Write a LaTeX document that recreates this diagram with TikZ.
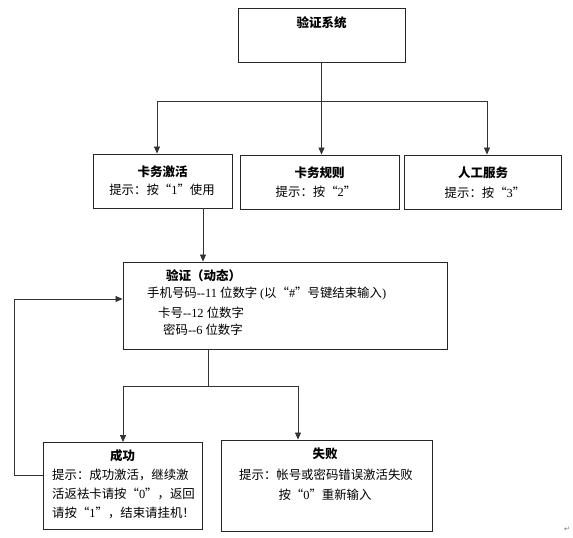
\documentclass[tikz,border=0pt]{standalone}
\usepackage{fontspec}
\setmainfont{Liberation Serif}
\newfontfamily\cjk{Noto Sans CJK SC}
\newfontfamily\symfont{DejaVu Sans}
\usetikzlibrary{arrows.meta}
\newcommand{\lat}[1]{{\rmfamily #1}}
\begin{document}
\begin{tikzpicture}[x=1pt,y=-1pt,
  box/.style={draw=black!85,line width=0.9pt,rectangle,inner sep=0pt},
  ttl/.style={font=\cjk\bfseries\fontsize{12.5}{14}\selectfont,inner sep=0pt},
  txt/.style={font=\cjk\fontsize{12.4}{14}\selectfont,inner sep=0pt},
  conn/.style={draw=black!80,line width=0.8pt},
  arr/.style={conn,-{Triangle[length=7pt,width=6pt]}}]
\useasboundingbox (0,0) rectangle (573,538);
% boxes
\node[box,minimum width=167pt,minimum height=54pt] (top) at (321.5,35) {};
\node[box,minimum width=139pt,minimum height=54pt] (b1) at (162.5,181) {};
\node[box,minimum width=159pt,minimum height=54pt] (b2) at (319.5,182) {};
\node[box,minimum width=157pt,minimum height=54pt] (b3) at (482.5,182) {};
\node[box,minimum width=324pt,minimum height=87pt] (verif) at (285,305.5) {};
\node[box,minimum width=159pt,minimum height=87pt] (succ) at (122.5,486) {};
\node[box,minimum width=211pt,minimum height=91pt] (fail) at (326.5,485.5) {};
% texts
\node[ttl] (ttop) at (321.5,23) {验证系统};
\node[ttl] (tb1) at (162.5,172) {卡务激活};
\node[txt] (sb1) at (162,190) {提示：按“\lat{1}”使用};
\node[ttl] (tb2) at (319.5,173) {卡务规则};
\node[txt] (sb2) at (316,192) {提示：按“\lat{2}”};
\node[ttl] (tb3) at (483,173) {人工服务};
\node[txt] (sb3) at (485,193) {提示：按“\lat{3}”};
\node[ttl,anchor=west] (tv) at (166,276) {验证（动态）};
\node[txt,anchor=west] (v1) at (147,294) {手机号码\lat{-{}-11 }位数字 \lat{(}以“\lat{\#}”号键结束输入\lat{)}};
\node[txt,anchor=west] (v2) at (158,313) {卡号\lat{-{}-12 }位数字};
\node[txt,anchor=west] (v3) at (163,330) {密码\lat{-{}-6 }位数字};
\node[ttl] (ts) at (122.5,456) {成功};
\node[txt,anchor=west] (s1) at (52,475) {提示：成功激活，继续激};
\node[txt,anchor=west] (s2) at (52,494) {活返袪卡请按“\lat{0}”，返回};
\node[txt,anchor=west] (s3) at (52,513) {请按“\lat{1}”，结束请挂机！};
\node[ttl] (tf) at (325,454) {失败};
\node[txt] (f1) at (326,475) {提示：帐号或密码错误激活失败};
\node[txt] (f2) at (325,495) {按“\lat{0}”重新输入};
\node[font=\symfont\fontsize{7}{8}\selectfont,text=black!55,inner sep=0pt] (mark) at (567,529) {↵};
% connectors
\coordinate (busL) at (157,101);
\coordinate (busR) at (487,101);
\draw[conn] (top.south) -- (top.south |- busL);
\draw[conn] (busL) -- (busR);
\draw[arr] (busL) -- (busL |- b1.north);
\draw[arr] (top.south |- busL) -- (top.south |- b2.north);
\draw[arr] (busR) -- (busR |- b3.north);
\coordinate (d1) at (203,0);
\draw[arr] (b1.south -| d1) -- (verif.north -| d1);
\coordinate (d2) at (208,386);
\coordinate (bus2L) at (123,386);
\coordinate (bus2R) at (298,386);
\draw[conn] (verif.south -| d2) -- (d2);
\draw[conn] (bus2L) -- (bus2R);
\draw[arr] (bus2L) -- (bus2L |- succ.north);
\draw[arr] (bus2R) -- (bus2R |- fail.north);
\coordinate (fbA) at (14,475);
\coordinate (fbB) at (14,299);
\draw[arr] (succ.west |- fbA) -- (fbA) -- (fbB) -- (verif.west |- fbB);
\end{tikzpicture}
\end{document}
